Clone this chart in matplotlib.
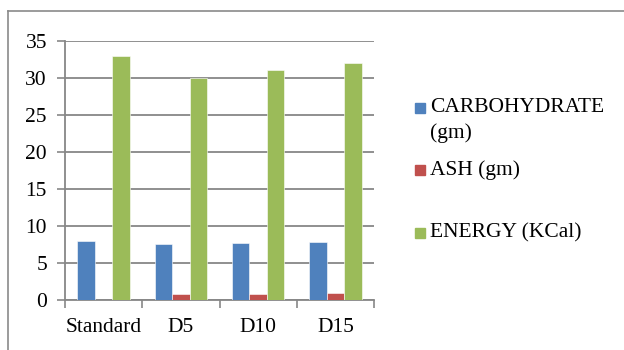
import matplotlib
matplotlib.use("Agg")
import matplotlib.pyplot as plt
import numpy as np
from matplotlib.patches import Rectangle

categories = ["Standard", "D5", "D10", "D15"]
carbohydrate = [8.0, 7.5, 7.7, 7.8]
ash = [0.0, 0.8, 0.85, 1.0]
energy = [33.0, 30.0, 31.0, 32.0]
series_names = ["CARBOHYDRATE\n(gm)", "ASH (gm)", "ENERGY (KCal)"]
colors = ["#4F81BD", "#C0504D", "#9BBB59"]
yticks = [0, 5, 10, 15, 20, 25, 30, 35]

plt.rcParams["font.family"] = ["Liberation Serif", "DejaVu Serif"]
FS = 15.5

fig = plt.figure(figsize=(6.24, 3.5), dpi=100)
W, H = 624, 350
ax = fig.add_axes([65 / W, 1 - 300 / H, (374 - 65) / W, (300 - 40.7) / H])

x = np.arange(len(categories))
bw = 0.226
for i, (vals, c) in enumerate(zip([carbohydrate, ash, energy], colors)):
    ax.bar(x + (i - 1) * bw, vals, width=bw, color=c, zorder=3,
           edgecolor="white", linewidth=0.4, label=series_names[i])

ax.set_xlim(-0.5, len(categories) - 0.5)
ax.set_ylim(0, 35)
ax.set_yticks(yticks)
ax.set_yticklabels([str(t) for t in yticks], fontsize=FS)
ax.yaxis.grid(True, color="#878787", linewidth=1.3, zorder=0)
ax.set_axisbelow(True)

ax.set_xticks(np.arange(len(categories) + 1) - 0.5, minor=False)
ax.set_xticklabels([])
ax.set_xticks(x, minor=True)
ax.set_xticklabels(categories, minor=True, fontsize=FS)
ax.tick_params(axis="x", which="major", length=6, width=1.2, color="#878787", direction="out")
ax.tick_params(axis="x", which="minor", length=0, pad=13)
ax.tick_params(axis="y", length=6, width=1.2, color="#878787", direction="out", pad=7)

for s in ["top", "right"]:
    ax.spines[s].set_visible(False)
for s in ["left", "bottom"]:
    ax.spines[s].set_color("#878787")
    ax.spines[s].set_linewidth(1.3)

# legend drawn as squares with labels
leg_y = [108, 170, 233]
for name, c, yy in zip(series_names, colors, leg_y):
    fig.patches.append(Rectangle((415 / W, 1 - (yy + 5) / H), 10 / W, 10 / H,
                                 transform=fig.transFigure, color=c))
    lines = name.split("\n")
    fig.text(430 / W, 1 - yy / H, lines[0], fontsize=FS, va="center", ha="left")
    if len(lines) > 1:
        fig.text(430 / W, 1 - (yy + 25) / H, lines[1], fontsize=FS, va="center", ha="left")

# outer frame
fig.add_artist(plt.Line2D([8 / W, 8 / W], [0, 1 - 11 / H], transform=fig.transFigure,
                          color="#8a8a8a", linewidth=1.2))
fig.add_artist(plt.Line2D([8 / W, 1], [1 - 11 / H, 1 - 11 / H], transform=fig.transFigure,
                          color="#8a8a8a", linewidth=1.2))

fig.savefig("out.png", dpi=100)
